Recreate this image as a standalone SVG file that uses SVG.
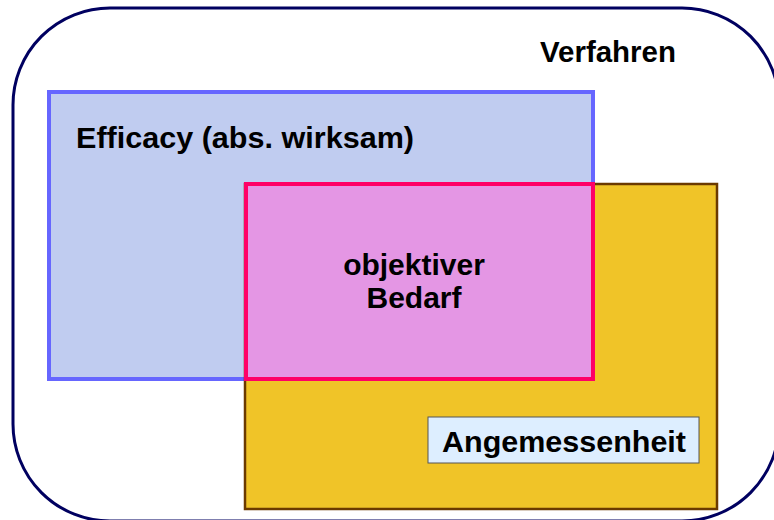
<svg xmlns="http://www.w3.org/2000/svg" width="774" height="520" viewBox="0 0 774 520">
<style>
text{font-family:"Liberation Sans",Arial,sans-serif;font-weight:bold;font-size:30px;fill:#000}
</style>
<rect width="774" height="520" fill="#fff"/>
<g id="verfahren">
<rect x="13" y="8" width="766" height="513" rx="97" ry="97" fill="none" stroke="#000060" stroke-width="3"/>
<text x="676" y="62" text-anchor="end" textLength="136" lengthAdjust="spacingAndGlyphs">Verfahren</text>
</g>
<g id="efficacy">
<rect x="49" y="92" width="544" height="287" fill="#c0ccf0" stroke="#6666ff" stroke-width="4"/>
<text x="76" y="148" textLength="338" lengthAdjust="spacingAndGlyphs">Efficacy (abs. wirksam)</text>
</g>
<g id="angemessenheit-area">
<rect x="245" y="184" width="472" height="325" fill="#f0c428" stroke="#6b3a00" stroke-width="2.5"/>
</g>
<g id="objektiver-bedarf">
<rect x="246" y="184" width="347" height="195" fill="#e496e4" stroke="#ff0066" stroke-width="4"/>
<text x="414" y="275" text-anchor="middle">objektiver</text>
<text x="414" y="308" text-anchor="middle">Bedarf</text>
</g>
<g id="angemessenheit">
<rect x="428" y="417" width="271" height="46" fill="#ddeeff" stroke="#555" stroke-width="1"/>
<text x="564" y="452" text-anchor="middle" textLength="244" lengthAdjust="spacingAndGlyphs">Angemessenheit</text>
</g>
<g id="connectors"/>
</svg>
